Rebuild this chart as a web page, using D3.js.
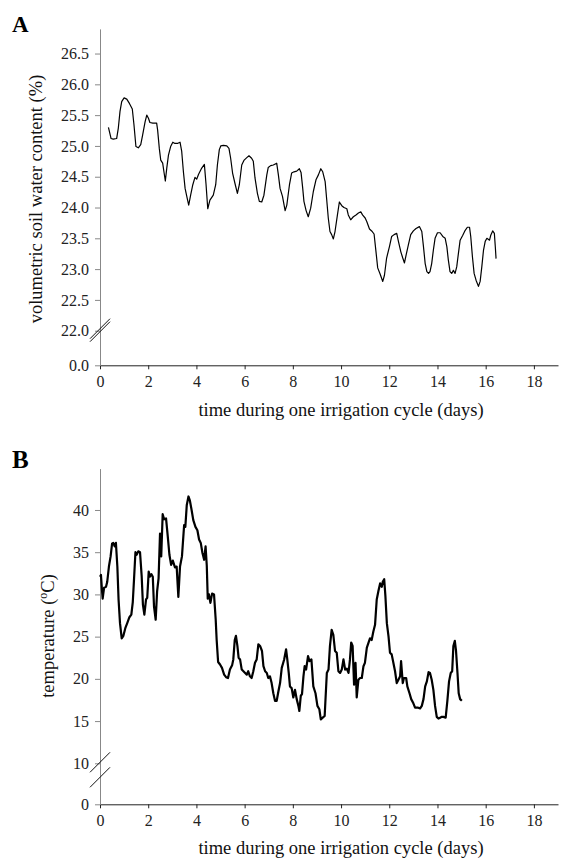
<!DOCTYPE html>
<html><head><meta charset="utf-8">
<script src="https://cdn.jsdelivr.net/npm/d3@7"></script>
<style>
body{margin:0;background:#fff;}
svg{font-family:"Liberation Serif","Times New Roman",serif;}
</style></head>
<body><svg id="c" width="571" height="863"></svg>
<script>
// Panel A: volumetric soil water content (%)
const dayA = [0.35,0.46,0.55,0.69,0.76,0.83,0.90,1.00,1.11,1.22,1.34,1.41,1.49,1.59,1.69,1.77,1.87,1.94,2.01,2.07,2.19,2.28,2.35,2.39,2.46,2.52,2.60,2.66,2.71,2.77,2.84,2.93,3.02,3.11,3.21,3.32,3.39,3.46,3.53,3.60,3.68,3.76,3.85,3.94,4.01,4.09,4.22,4.33,4.40,4.47,4.56,4.70,4.80,4.87,4.95,5.01,5.12,5.26,5.35,5.42,5.50,5.60,5.70,5.78,5.88,5.98,6.09,6.18,6.29,6.36,6.43,6.53,6.61,6.71,6.80,6.92,6.98,7.08,7.19,7.33,7.40,7.47,7.57,7.68,7.75,7.86,7.95,8.05,8.16,8.27,8.34,8.41,8.46,8.55,8.64,8.74,8.85,8.96,9.06,9.16,9.24,9.34,9.40,9.47,9.54,9.61,9.68,9.75,9.85,9.93,10.03,10.12,10.24,10.30,10.40,10.51,10.62,10.72,10.82,10.89,11.00,11.07,11.18,11.27,11.37,11.45,11.52,11.62,11.73,11.80,11.89,12.01,12.10,12.20,12.31,12.38,12.48,12.56,12.63,12.70,12.79,12.89,13.00,13.11,13.25,13.35,13.42,13.49,13.56,13.63,13.69,13.76,13.83,13.90,14.00,14.11,14.22,14.32,14.39,14.45,14.52,14.59,14.66,14.73,14.80,14.87,14.94,15.05,15.15,15.24,15.33,15.38,15.45,15.52,15.60,15.70,15.77,15.84,15.91,15.98,16.05,16.16,16.21,16.29,16.36,16.40,16.43];
const swcA = [25.30,25.12,25.11,25.12,25.29,25.56,25.72,25.78,25.76,25.69,25.60,25.34,24.99,24.97,25.02,25.18,25.39,25.50,25.45,25.38,25.37,25.37,25.37,25.26,24.96,24.77,24.72,24.56,24.43,24.64,24.85,24.99,25.06,25.04,25.04,25.06,24.91,24.58,24.31,24.18,24.04,24.20,24.37,24.49,24.46,24.54,24.64,24.70,24.37,23.98,24.12,24.20,24.37,24.69,24.94,25.00,25.01,25.00,24.96,24.80,24.56,24.39,24.23,24.37,24.69,24.77,24.81,24.84,24.80,24.75,24.48,24.23,24.10,24.09,24.20,24.53,24.65,24.68,24.69,24.72,24.53,24.31,24.18,23.95,24.04,24.37,24.56,24.58,24.59,24.63,24.57,24.31,24.10,23.95,23.85,23.99,24.26,24.45,24.53,24.63,24.58,24.42,24.15,23.83,23.61,23.56,23.49,23.61,23.88,24.09,24.03,24.00,23.98,23.88,23.80,23.85,23.88,23.91,23.93,23.88,23.83,23.77,23.65,23.62,23.57,23.28,23.02,22.92,22.80,22.90,23.18,23.37,23.53,23.56,23.58,23.45,23.28,23.18,23.10,23.23,23.39,23.56,23.62,23.66,23.69,23.61,23.36,23.09,22.96,22.93,22.96,23.09,23.31,23.50,23.59,23.59,23.53,23.50,23.36,23.15,22.96,22.93,22.98,22.93,23.04,23.26,23.47,23.55,23.63,23.68,23.68,23.53,23.20,22.93,22.82,22.72,22.80,23.04,23.31,23.45,23.50,23.47,23.55,23.62,23.58,23.36,23.17];

// Panel B: temperature (°C)
const dayB = [0.00,0.04,0.08,0.11,0.17,0.25,0.30,0.37,0.44,0.50,0.55,0.61,0.66,0.72,0.77,0.83,0.90,0.97,1.05,1.13,1.22,1.30,1.36,1.41,1.47,1.52,1.59,1.66,1.73,1.78,1.84,1.91,1.96,2.02,2.07,2.13,2.19,2.24,2.31,2.37,2.43,2.49,2.54,2.60,2.66,2.74,2.81,2.88,2.95,3.02,3.11,3.18,3.25,3.32,3.40,3.49,3.54,3.60,3.67,3.73,3.80,3.87,3.96,4.04,4.11,4.18,4.25,4.32,4.38,4.43,4.47,4.52,4.58,4.65,4.73,4.80,4.84,4.90,4.98,5.06,5.15,5.23,5.31,5.39,5.48,5.53,5.59,5.64,5.70,5.75,5.81,5.88,5.95,6.02,6.09,6.15,6.22,6.29,6.36,6.43,6.50,6.57,6.64,6.72,6.78,6.85,6.92,6.98,7.05,7.12,7.19,7.26,7.33,7.40,7.47,7.54,7.64,7.72,7.77,7.83,7.88,7.95,8.02,8.09,8.16,8.23,8.27,8.33,8.38,8.44,8.49,8.55,8.63,8.69,8.77,8.85,8.94,9.02,9.10,9.16,9.24,9.32,9.41,9.48,9.54,9.61,9.68,9.75,9.82,9.89,9.96,10.03,10.10,10.17,10.24,10.31,10.37,10.42,10.48,10.54,10.60,10.65,10.72,10.79,10.86,10.93,10.99,11.07,11.14,11.20,11.27,11.34,11.41,11.48,11.55,11.62,11.69,11.73,11.79,11.84,11.90,11.97,12.03,12.10,12.17,12.24,12.31,12.38,12.45,12.49,12.56,12.61,12.70,12.75,12.84,12.91,13.00,13.07,13.17,13.28,13.35,13.42,13.49,13.56,13.63,13.69,13.76,13.83,13.90,13.97,14.04,14.11,14.18,14.25,14.34,14.41,14.48,14.55,14.61,14.66,14.72,14.77,14.83,14.88,14.94,15.01];
const tempB = [32.1,32.3,30.6,29.5,30.8,30.9,31.5,33.3,34.5,36.0,36.1,35.7,36.1,33.3,29.4,26.6,24.8,25.1,26.0,26.6,27.3,27.6,29.1,31.7,35.0,34.7,35.1,35.0,32.1,28.8,27.6,29.4,29.6,32.7,32.1,32.4,32.1,28.6,27.0,30.4,31.9,37.2,34.5,39.5,38.9,39.0,36.9,34.7,33.5,34.0,33.2,33.3,29.7,33.3,34.5,38.2,38.0,40.6,41.6,41.1,40.0,38.8,38.0,37.6,36.5,36.1,34.9,34.1,35.7,33.4,29.5,30.0,29.0,30.1,30.0,27.0,24.6,22.0,21.7,21.3,20.5,20.2,20.1,21.1,21.6,22.3,24.6,25.1,23.9,22.5,22.3,21.1,20.9,20.7,20.5,20.9,20.3,20.1,20.9,21.9,22.3,24.1,23.9,23.3,21.5,20.9,20.7,20.1,20.3,19.5,18.3,17.4,17.4,18.5,19.5,21.3,22.3,23.5,22.3,20.7,19.1,18.9,17.8,18.7,17.6,16.8,16.2,18.0,18.2,20.3,21.5,21.1,22.7,22.1,22.3,19.1,18.3,16.8,16.4,15.2,15.4,15.6,20.7,21.1,23.9,25.8,25.2,23.3,23.1,20.9,20.7,21.1,22.3,21.1,21.2,20.7,22.3,24.3,23.9,19.3,21.9,17.8,19.9,20.1,20.1,21.5,21.9,23.7,24.3,24.8,24.6,25.6,26.4,29.4,30.4,31.3,30.9,31.5,31.8,29.8,26.6,25.0,23.1,22.9,21.9,20.9,19.5,19.9,20.3,22.1,19.5,20.1,20.1,19.1,18.3,17.6,17.1,16.6,16.6,16.5,16.8,17.6,19.1,19.7,20.8,20.7,19.9,18.7,16.8,15.5,15.3,15.4,15.5,15.5,15.4,17.4,19.7,20.7,20.9,23.9,24.5,23.3,20.7,18.3,17.6,17.4];

const xTicks = [0,2,4,6,8,10,12,14,16,18];
const yTicksA = [0,22,22.5,23,23.5,24,24.5,25,25.5,26,26.5];
const yTicksB = [0,10,15,20,25,30,35,40];

const svg = d3.select("#c");
const x = d3.scaleLinear().domain([0,19]).range([100,558]);
const FONT = "'Liberation Serif','Times New Roman',serif";

function panel(opts){
  const g = svg.append("g");
  const y = opts.y;
  const xa = g.append("g").attr("transform",`translate(0,${y.range()[0]})`)
    .call(d3.axisBottom(x).tickValues(xTicks).tickSize(4).tickSizeOuter(0).tickPadding(6).tickFormat(d3.format("d")));
  xa.attr("font-family",FONT);
  xa.select(".domain").attr("stroke","#222");
  xa.selectAll(".tick line").attr("stroke","#222");
  xa.selectAll("text").attr("font-size",16).attr("fill","#222");
  const ya = g.append("g").attr("transform",`translate(${x(0)},0)`)
    .call(d3.axisLeft(y).tickValues(opts.yTicks).tickSize(5).tickSizeOuter(0).tickPadding(6).tickFormat(opts.fmt));
  ya.attr("font-family",FONT);
  ya.select(".domain").attr("stroke","#888");
  ya.selectAll(".tick line").attr("stroke","#888");
  ya.selectAll("text").attr("font-size",16).attr("fill","#222");
  opts.breaks.forEach(b=>{
    g.append("line").attr("x1",x(0)-10).attr("x2",x(0)+10)
      .attr("y1",b+10).attr("y2",b-10).attr("stroke","#111").attr("stroke-width",1);
  });
  const line = d3.line().x((d,i)=>x(opts.xs[i])).y(d=>y(d));
  g.append("path").datum(opts.vs).attr("d",line).attr("fill","none")
    .attr("stroke","#000").attr("stroke-width",opts.sw).attr("stroke-linejoin","round");
  g.append("text").attr("x",(x(0)+x(19))/2+12).attr("y",opts.xlabY).attr("text-anchor","middle")
    .attr("font-size",18.5).attr("fill","#111").text("time during one irrigation cycle (days)");
  g.append("text").attr("x",12).attr("y",opts.letterY).attr("font-size",opts.letterSize).attr("font-weight","bold")
    .attr("fill","#000").text(opts.letter);
  return g;
}

const yA = d3.scaleLinear().domain([0,22,26.9]).range([365.3,330.7,28.9]);
const gA = panel({y:yA, yTicks:yTicksA, fmt:d3.format(".1f"), xs:dayA, vs:swcA, sw:1.2,
  breaks:[yA(22)-2, yA(22)+1], xlabY:416, letter:"A", letterY:32, letterSize:23});
gA.append("text").attr("transform",`translate(42,199) rotate(-90)`)
  .attr("text-anchor","middle").attr("font-size",18.5).attr("fill","#111")
  .text("volumetric soil water content (%)");

const yB = d3.scaleLinear().domain([0,10,44.9]).range([804.3,763.3,468.6]);
const gB = panel({y:yB, yTicks:yTicksB, fmt:d3.format("d"), xs:dayB, vs:tempB, sw:2.2,
  breaks:[yB(10)-1, yB(10)+14], xlabY:854, letter:"B", letterY:468, letterSize:25});
const tB = gB.append("text").attr("transform",`translate(54,636) rotate(-90)`)
  .attr("text-anchor","middle").attr("font-size",18.5).attr("fill","#111");
tB.append("tspan").text("temperature (");
tB.append("tspan").attr("font-size",12).attr("dy",-7).text("o");
tB.append("tspan").attr("dy",7).text("C)");
</script></body></html>
